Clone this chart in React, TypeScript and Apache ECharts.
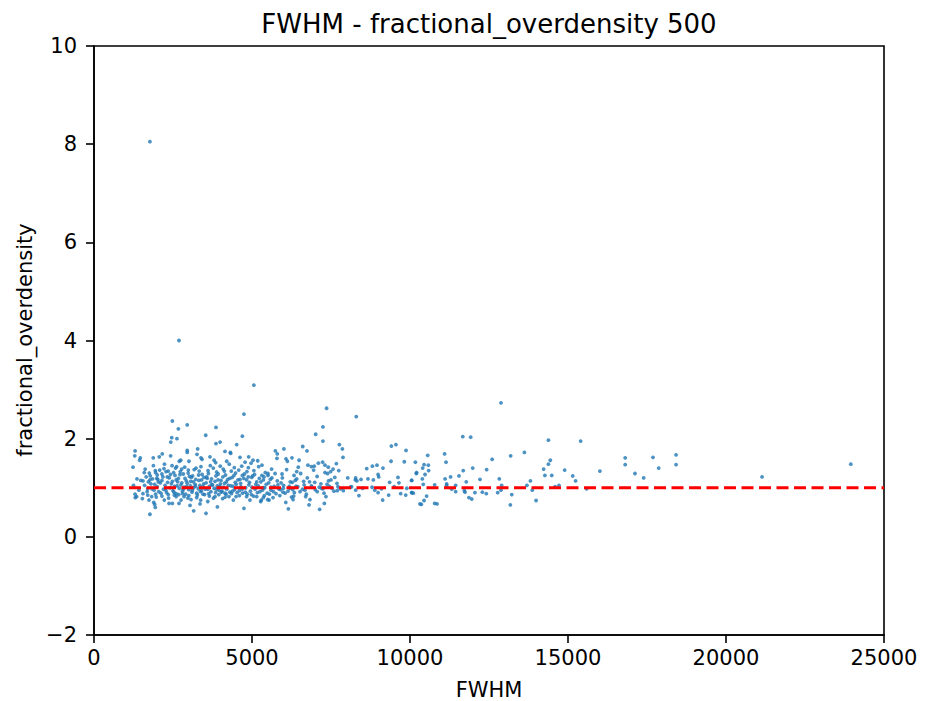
import React, { useEffect, useRef } from "react";
import * as echarts from "echarts";

const xTicks = [0, 5000, 10000, 15000, 20000, 25000];
const yTicks = [-2, 0, 2, 4, 6, 8, 10];
const referenceLevel = 1;

// [FWHM, fractional_overdensity]
const outliers: number[][] = [
  [1770, 8.05], [2690, 4.0], [5060, 3.09], [7360, 2.62], [8300, 2.45], [12880, 2.73],
  [4745, 2.5], [23950, 1.48], [21140, 1.22], [16010, 1.34],
];

const farPoints: number[][] = [
  [16810, 1.61], [16810, 1.47], [17120, 1.29], [17395, 1.2], [17690, 1.62], [17870, 1.4],
  [18420, 1.67], [18420, 1.47], [11670, 2.04], [11920, 2.03], [14380, 1.97], [15400, 1.95],
  [13620, 1.72], [13185, 1.65], [12600, 1.58], [14440, 1.56], [14380, 1.48], [14230, 1.38],
  [14895, 1.36], [14270, 1.25], [14485, 1.25], [15150, 1.24], [15240, 1.14], [14715, 1.05],
  [14590, 1.02], [15590, 0.98], [13810, 1.14], [13700, 1.05], [13870, 0.95], [13990, 0.74],
  [13175, 0.65], [13220, 0.86], [12900, 1.05], [12880, 0.95], [12825, 1.18], [12775, 0.9],
  [12425, 1.37], [12215, 1.17], [12415, 0.88], [12290, 0.91], [11985, 1.4], [12055, 0.9],
  [11955, 0.77], [11865, 0.8], [11780, 1.12], [11685, 1.35], [11720, 0.94], [11740, 0.91],
  [11550, 1.24], [11445, 1.05], [11445, 0.92], [11285, 1.22], [11095, 1.69], [11140, 1.52],
  [11110, 1.18], [11160, 1.08], [11160, 1.05], [11320, 0.97], [10780, 1.06], [10780, 0.68],
  [10855, 0.67], [10560, 1.66], [10170, 1.52], [10200, 1.29], [10445, 1.47], [10580, 1.46],
  [10400, 1.4], [10590, 1.35], [10475, 1.27], [10390, 1.18], [10420, 1.07], [10050, 1.15],
  [10050, 0.9], [10105, 0.89], [10525, 0.83], [10445, 0.74], [10360, 0.66],
];

const midPoints: number[][] = [
  [7245, 2.24], [7015, 2.09], [7245, 1.95], [7765, 1.88], [7860, 1.79], [6605, 1.84],
  [6740, 1.75], [5740, 1.75], [6010, 1.79], [5800, 1.69], [5790, 1.6], [6075, 1.59],
  [6120, 1.54], [6265, 1.61], [6490, 1.56], [9410, 1.85], [9555, 1.88], [9875, 1.76],
  [9400, 1.54], [9820, 1.53], [7880, 1.62], [7670, 1.49], [7745, 1.35], [7415, 1.42],
  [7235, 1.52], [7100, 1.5], [6970, 1.44], [6770, 1.46], [6880, 1.43], [6950, 1.36],
  [7310, 1.46], [7395, 1.29], [7310, 1.31], [7490, 1.33], [7500, 1.16], [7565, 1.38],
  [7690, 1.09], [7700, 0.94], [7890, 0.94], [8280, 1.2], [8320, 1.14], [8450, 1.17],
  [8270, 1.16], [8385, 0.84], [8280, 0.95], [8030, 1.2], [8110, 1.01], [8630, 1.39],
  [8810, 1.44], [8955, 1.46], [8990, 1.27], [9145, 1.4], [8840, 1.16], [8670, 1.18],
  [9010, 1.22], [8885, 0.95], [8990, 0.9], [9135, 0.75], [9355, 1.11], [9325, 0.85],
  [9620, 1.21], [9650, 1.1], [9705, 0.88], [9865, 0.85], [10055, 1.15], [10210, 1.31],
  [10060, 0.9], [10315, 0.67], [6150, 0.57], [6070, 0.7], [6300, 0.76], [6340, 0.9],
  [6320, 0.83], [6290, 0.96], [6390, 1.03], [6275, 1.11], [6330, 1.25], [6415, 1.18],
  [6415, 1.33], [6465, 1.42], [6540, 1.29], [6635, 1.13], [6675, 0.95], [6700, 0.82],
  [6835, 0.76], [6805, 0.65], [7140, 0.56], [6880, 1.04], [6985, 1.11], [6750, 1.2],
  [7065, 0.92], [7290, 0.68], [7340, 0.82], [7245, 0.98], [7375, 1.07], [7595, 0.93],
  [7130, 1.01], [5495, 0.76], [5550, 0.87], [5600, 1.01], [5760, 0.88], [5845, 0.98],
  [5920, 1.1], [5990, 0.99], [5980, 0.91], [5665, 0.8], [5800, 1.14], [5630, 1.2],
  [5505, 1.25], [5620, 1.38], [5380, 1.22], [5315, 1.46], [5360, 1.0], [5295, 0.75],
  [5390, 0.84], [6140, 0.93], [5950, 1.28], [6210, 1.12], [6095, 1.37],
  [5600, 0.95], [5700, 1.03], [5900, 0.96], [6000, 1.05], [6200, 0.99], [6450, 1.02],
  [6600, 0.97], [6900, 1.01], [7200, 0.99], [7450, 1.03], [7800, 0.98], [8150, 1.02],
  [8500, 0.99], [8800, 1.01], [9100, 0.98], [9500, 1.02], [9900, 0.99],
  [5580, 1.17], [5680, 0.92], [5730, 1.29], [5820, 1.06], [5880, 0.84], [5960, 1.2],
  [6050, 0.89], [6180, 1.03], [6250, 0.81], [6370, 1.15], [6520, 0.92], [6650, 1.06],
  [6720, 0.87], [6820, 1.12], [7000, 0.96], [7060, 1.23], [7180, 1.08], [7280, 0.89],
  [7420, 1.14], [7530, 0.99], [7620, 1.21], [7720, 1.02],
];

const coreUpper: number[][] = [
  [2480, 2.36], [2950, 2.28], [2670, 2.2], [2460, 2.02], [2430, 1.93], [2625, 2.0],
  [3535, 2.07], [3860, 2.23], [4695, 2.05], [3860, 1.9], [3990, 1.93], [4515, 1.88],
  [4315, 1.72], [4145, 1.74], [3280, 1.79], [3260, 1.68], [2950, 1.76], [2950, 1.72],
  [1300, 1.75], [1290, 1.65], [1465, 1.61], [1445, 1.56], [1235, 1.42], [2160, 1.69],
  [2065, 1.63], [1875, 1.61], [2425, 1.65], [2745, 1.56], [2700, 1.54], [3005, 1.54],
  [3385, 1.61], [3420, 1.58], [3670, 1.63], [3800, 1.56], [3850, 1.51], [4200, 1.54],
  [4325, 1.7], [4620, 1.62], [4780, 1.52], [4895, 1.63], [5030, 1.56], [4970, 1.5],
  [5180, 1.55], [5315, 1.25], [1590, 1.31], [1940, 1.35], [1950, 1.31], [2215, 1.39],
  [2470, 1.45], [2350, 1.34], [2615, 1.43], [2775, 1.38], [2985, 1.36], [3230, 1.4],
  [3385, 1.43], [3610, 1.35], [3775, 1.4], [3995, 1.44], [4125, 1.34], [4345, 1.34],
  [4440, 1.41], [4675, 1.44], [4885, 1.41], [5060, 1.35], [5210, 1.43], [5505, 1.29],
  [1360, 1.18], [1550, 1.14], [1720, 1.12], [1770, 1.16], [1985, 1.19], [2035, 1.12],
  [2150, 1.28], [2320, 1.22], [2565, 1.25], [2670, 1.19], [2825, 1.28], [2920, 1.14],
  [3080, 1.21], [3145, 1.12], [3310, 1.26], [3405, 1.16], [3565, 1.22], [3690, 1.12],
  [3860, 1.24], [3925, 1.16], [4080, 1.22], [4190, 1.12], [4375, 1.21], [4555, 1.16],
  [4695, 1.25], [4830, 1.16], [4990, 1.21], [5150, 1.12], [5360, 1.16],
  [1650, 1.22], [1750, 1.3], [1850, 1.18], [2000, 1.26], [2150, 1.15], [2280, 1.33],
  [2380, 1.2], [2520, 1.31], [2600, 1.16], [2720, 1.27], [2880, 1.19], [2980, 1.3],
  [3120, 1.24], [3220, 1.17], [3330, 1.34], [3480, 1.21], [3620, 1.29], [3720, 1.18],
  [3880, 1.32], [4020, 1.15], [4160, 1.26], [4300, 1.19], [4480, 1.3], [4620, 1.17],
  [4760, 1.28], [4880, 1.22], [5080, 1.27], [5230, 1.19],
  [1480, 1.15], [1620, 1.38], [1780, 1.24], [1880, 1.45], [2020, 1.17], [2080, 1.36],
  [2180, 1.22], [2230, 1.48], [2330, 1.11], [2420, 1.27], [2480, 1.13], [2580, 1.4],
  [2730, 1.33], [2780, 1.1], [2870, 1.42], [3020, 1.23], [3060, 1.13], [3170, 1.37],
  [3320, 1.15], [3420, 1.27], [3470, 1.08], [3580, 1.19], [3680, 1.45], [3830, 1.13],
  [3930, 1.28], [4090, 1.38], [4130, 1.09], [4230, 1.17], [4280, 1.48], [4430, 1.25],
  [4470, 1.11], [4580, 1.36], [4640, 1.09], [4740, 1.19], [4840, 1.33], [4920, 1.11],
  [5020, 1.24], [5120, 1.07], [5280, 1.12], [5420, 1.31], [5530, 1.1],
];

const coreLower: number[][] = [
  [1350, 0.82], [1305, 0.8], [1770, 0.46], [1825, 0.82], [1740, 0.75], [1890, 0.7],
  [1940, 0.6], [1920, 0.66], [2225, 0.75], [2375, 0.68], [2540, 0.85], [2480, 0.68],
  [2690, 0.68], [2755, 0.75], [2850, 0.82], [3070, 0.76], [3040, 0.64], [3155, 0.53],
  [3355, 0.67], [3375, 0.75], [3545, 0.48], [3600, 0.72], [3830, 0.82], [3905, 0.61],
  [4070, 0.78], [4145, 0.89], [4270, 0.82], [4410, 0.75], [4495, 0.82], [4745, 0.58],
  [4830, 0.82], [4935, 0.75], [5150, 0.82], [5275, 0.72], [5360, 0.8], [5540, 0.75],
  [1300, 0.87], [1600, 1.05], [1700, 0.98], [1800, 1.08], [1900, 0.95], [2000, 1.02],
  [2050, 0.92], [2100, 1.1], [2200, 0.97], [2250, 1.05], [2300, 0.9], [2400, 1.0],
  [2450, 1.08], [2500, 0.94], [2550, 1.03], [2600, 0.88], [2650, 1.12], [2700, 0.99],
  [2750, 1.06], [2800, 0.93], [2850, 1.01], [2900, 0.87], [2950, 1.09], [3000, 0.96],
  [3050, 1.04], [3100, 0.91], [3150, 1.0], [3200, 1.07], [3250, 0.89], [3300, 0.98],
  [3350, 1.05], [3400, 0.94], [3450, 1.02], [3500, 0.86], [3550, 1.1], [3600, 0.97],
  [3650, 1.03], [3700, 0.92], [3750, 1.06], [3800, 0.99], [3850, 0.9], [3900, 1.04],
  [3950, 0.95], [4000, 1.08], [4050, 0.93], [4100, 1.01], [4200, 0.97], [4250, 1.05],
  [4300, 0.91], [4400, 1.03], [4450, 0.96], [4500, 1.07], [4600, 0.94], [4650, 1.02],
  [4700, 0.89], [4800, 1.0], [4900, 1.06], [4950, 0.93], [5000, 1.01], [5100, 0.97],
  [5200, 1.04], [5250, 0.92], [5400, 1.0], [5450, 1.07],
  [1550, 0.88], [1700, 0.85], [1950, 0.87], [2150, 0.83], [2350, 0.86], [2600, 0.82],
  [2800, 0.88], [3000, 0.84], [3250, 0.8], [3450, 0.87], [3650, 0.83], [3950, 0.86],
  [4150, 0.81], [4350, 0.88], [4600, 0.84], [4850, 0.87], [5050, 0.83],
  [1250, 1.05], [1420, 0.95], [1530, 0.78], [1680, 0.92], [1830, 0.98], [1920, 1.07],
  [1970, 0.81], [2120, 0.89], [2270, 0.95], [2360, 0.79], [2530, 0.91], [2630, 1.04],
  [2680, 0.86], [2830, 0.97], [2930, 1.02], [2970, 0.79], [3110, 0.95], [3210, 1.03],
  [3270, 0.85], [3370, 0.92], [3520, 0.97], [3630, 0.88], [3730, 1.06], [3780, 0.79],
  [3870, 0.97], [3980, 1.03], [4030, 0.91], [4180, 0.87], [4330, 1.04], [4380, 0.93],
  [4530, 0.9], [4690, 0.97], [4790, 0.91], [4980, 0.86], [5170, 0.9], [5330, 0.95],
  [5480, 0.89],
];

const FONT = "DejaVu Sans";

export default function App() {
  const ref = useRef<HTMLDivElement>(null);
  useEffect(() => {
    if (!ref.current) return;
    const chart = echarts.init(ref.current, null, { renderer: "svg" });
    const points = [...outliers, ...farPoints, ...midPoints, ...coreUpper, ...coreLower];
    const axisCommon = {
      axisLine: { show: true, onZero: false, lineStyle: { color: "#000", width: 1.6 } },
      axisTick: { show: true, inside: false, length: 8, lineStyle: { color: "#000", width: 1.6 } },
      splitLine: { show: false },
    };
    chart.setOption({
      animation: false,
      backgroundColor: "#fff",
      grid: {
        left: 94, right: 45, top: 46, bottom: 66,
        show: true, borderColor: "#000", borderWidth: 1.6, backgroundColor: "transparent",
      },
      xAxis: {
        type: "value", min: xTicks[0], max: xTicks[xTicks.length - 1], interval: 5000,
        ...axisCommon,
        axisLabel: { color: "#000", fontFamily: FONT, fontSize: 21, margin: 12, formatter: (v: number) => String(v) },
      },
      yAxis: {
        type: "value", min: yTicks[0], max: yTicks[yTicks.length - 1], interval: 2,
        ...axisCommon,
        axisLabel: {
          color: "#000", fontFamily: FONT, fontSize: 21, margin: 17,
          formatter: (v: number) => (v < 0 ? "\u2212" + Math.abs(v) : String(v)),
        },
      },
      graphic: [
        {
          type: "text", x: 489, y: 24,
          style: { text: "FWHM - fractional_overdensity 500", fontFamily: FONT, fontSize: 26, fill: "#000", textAlign: "center", textVerticalAlign: "middle" },
        },
        {
          type: "text", x: 489, y: 690,
          style: { text: "FWHM", fontFamily: FONT, fontSize: 21, fill: "#000", textAlign: "center", textVerticalAlign: "middle" },
        },
        {
          type: "text", x: 25, y: 340, rotation: Math.PI / 2,
          style: { text: "fractional_overdensity", fontFamily: FONT, fontSize: 21, fill: "#000", textAlign: "center", textVerticalAlign: "middle" },
        },
      ],
      series: [
        {
          type: "scatter", data: points, symbol: "circle", symbolSize: 3.8,
          itemStyle: { color: "#1f77b4" }, z: 2,
        },
        {
          type: "line", data: [[xTicks[0], referenceLevel], [xTicks[xTicks.length - 1], referenceLevel]],
          symbol: "none", z: 3,
          lineStyle: { color: "#ff0000", width: 3, type: [12, 5.5] },
        },
      ],
    });
    return () => chart.dispose();
  }, []);
  return <div ref={ref} style={{ width: 929, height: 701, position: "absolute", left: 0, top: 0 }} />;
}
